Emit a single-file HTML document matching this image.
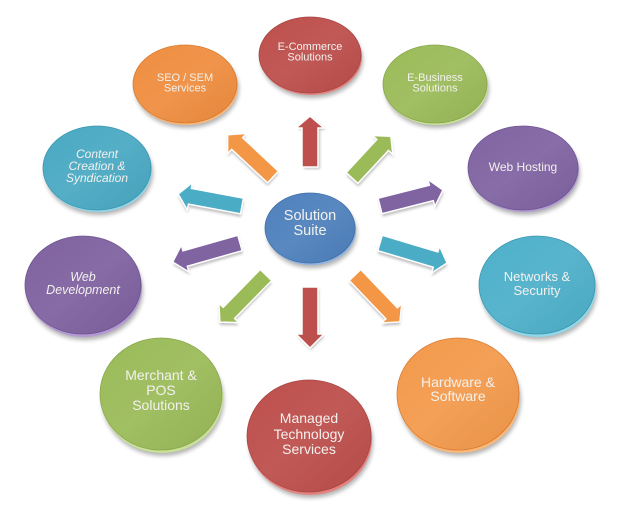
<!DOCTYPE html>
<html><head><meta charset="utf-8"><style>
html,body{margin:0;padding:0;background:#fff;}
svg{display:block;}
text{font-family:"Liberation Sans",sans-serif;fill:#f3f1ee;text-anchor:middle;}
</style></head><body>
<svg width="620" height="518" viewBox="0 0 620 518" xmlns="http://www.w3.org/2000/svg">
<defs>
<filter id="sh" x="-20%" y="-20%" width="140%" height="150%"><feGaussianBlur stdDeviation="2.2"/></filter>
<filter id="ash" x="-20%" y="-40%" width="140%" height="180%"><feGaussianBlur stdDeviation="1.2"/></filter>
<linearGradient id="gl" x1="0" y1="0" x2="1" y2="1"><stop offset="0" stop-color="#fff" stop-opacity="0"/><stop offset="0.5" stop-color="#fff" stop-opacity="0.06"/><stop offset="1" stop-color="#000" stop-opacity="0.04"/></linearGradient>
</defs>

<!-- Node helper: shadow, rim, face -->
<!-- E-Commerce -->
<g>
<ellipse cx="312" cy="60" rx="51" ry="38" fill="#000" opacity="0.3" filter="url(#sh)"/>
<ellipse cx="311" cy="57" rx="51" ry="38" fill="#e3837f"/>
<ellipse cx="310" cy="55" rx="51" ry="38" fill="#bd4f4c" stroke="#a84340" stroke-width="0.8"/>
<ellipse cx="310" cy="55" rx="51" ry="38" fill="url(#gl)"/>
<text x="310" y="50" font-size="11">E-Commerce</text>
<text x="310" y="60.5" font-size="11">Solutions</text>
</g>
<!-- SEO -->
<g>
<ellipse cx="187" cy="89" rx="52" ry="39" fill="#000" opacity="0.3" filter="url(#sh)"/>
<ellipse cx="186" cy="86" rx="52" ry="39" fill="#fbb778"/>
<ellipse cx="185" cy="84" rx="52" ry="39" fill="#ef8e40" stroke="#d97a30" stroke-width="0.8"/>
<ellipse cx="185" cy="84" rx="52" ry="39" fill="url(#gl)"/>
<text x="185" y="81" font-size="11">SEO / SEM</text>
<text x="185" y="91.5" font-size="11">Services</text>
</g>
<!-- E-Business -->
<g>
<ellipse cx="437" cy="89" rx="52" ry="39" fill="#000" opacity="0.3" filter="url(#sh)"/>
<ellipse cx="436" cy="86" rx="52" ry="39" fill="#c9e197"/>
<ellipse cx="435" cy="84" rx="52" ry="39" fill="#9bbb59" stroke="#87a64a" stroke-width="0.8"/>
<ellipse cx="435" cy="84" rx="52" ry="39" fill="url(#gl)"/>
<text x="435" y="81" font-size="11">E-Business</text>
<text x="435" y="91.5" font-size="11">Solutions</text>
</g>
<!-- Content -->
<g>
<ellipse cx="99" cy="173" rx="54" ry="42" fill="#000" opacity="0.3" filter="url(#sh)"/>
<ellipse cx="98" cy="170" rx="54" ry="42" fill="#8fd6e8"/>
<ellipse cx="97" cy="168" rx="54" ry="42" fill="#4aa9c3" stroke="#3a95ae" stroke-width="0.8"/>
<ellipse cx="97" cy="168" rx="54" ry="42" fill="url(#gl)"/>
<text x="97" y="158" font-size="12" font-style="italic">Content</text>
<text x="97" y="170" font-size="12" font-style="italic">Creation &amp;</text>
<text x="97" y="182" font-size="12" font-style="italic">Syndication</text>
</g>
<!-- Web Hosting -->
<g>
<ellipse cx="525" cy="173" rx="55" ry="42" fill="#000" opacity="0.3" filter="url(#sh)"/>
<ellipse cx="524" cy="170" rx="55" ry="42" fill="#b39ad3"/>
<ellipse cx="523" cy="168" rx="55" ry="42" fill="#8064a2" stroke="#6e5490" stroke-width="0.8"/>
<ellipse cx="523" cy="168" rx="55" ry="42" fill="url(#gl)"/>
<text x="523" y="171" font-size="12">Web Hosting</text>
</g>
<!-- Web Development -->
<g>
<ellipse cx="85" cy="291" rx="58" ry="49" fill="#000" opacity="0.3" filter="url(#sh)"/>
<ellipse cx="84" cy="288" rx="58" ry="49" fill="#b39ad3"/>
<ellipse cx="83" cy="285" rx="58" ry="49" fill="#7f62a0" stroke="#6e5490" stroke-width="0.8"/>
<ellipse cx="83" cy="285" rx="58" ry="49" fill="url(#gl)"/>
<text x="83" y="281" font-size="12.5" font-style="italic">Web</text>
<text x="83" y="294" font-size="12.5" font-style="italic">Development</text>
</g>
<!-- Networks -->
<g>
<ellipse cx="539" cy="291" rx="58" ry="49" fill="#000" opacity="0.3" filter="url(#sh)"/>
<ellipse cx="538" cy="288" rx="58" ry="49" fill="#8fd6e8"/>
<ellipse cx="537" cy="285" rx="58" ry="49" fill="#4eb0ca" stroke="#3a95ae" stroke-width="0.8"/>
<ellipse cx="537" cy="285" rx="58" ry="49" fill="url(#gl)"/>
<text x="537" y="281" font-size="13">Networks &amp;</text>
<text x="537" y="295" font-size="13">Security</text>
</g>
<!-- Merchant -->
<g>
<ellipse cx="163" cy="400" rx="61" ry="56" fill="#000" opacity="0.3" filter="url(#sh)"/>
<ellipse cx="162" cy="397" rx="61" ry="56" fill="#c9e197"/>
<ellipse cx="161" cy="394" rx="61" ry="56" fill="#9bbb59" stroke="#87a64a" stroke-width="0.8"/>
<ellipse cx="161" cy="394" rx="61" ry="56" fill="url(#gl)"/>
<text x="161" y="380" font-size="14">Merchant &amp;</text>
<text x="161" y="395" font-size="14">POS</text>
<text x="161" y="410" font-size="14">Solutions</text>
</g>
<!-- Hardware -->
<g>
<ellipse cx="460" cy="400" rx="61" ry="56" fill="#000" opacity="0.3" filter="url(#sh)"/>
<ellipse cx="459" cy="397" rx="61" ry="56" fill="#fbb778"/>
<ellipse cx="458" cy="394" rx="61" ry="56" fill="#f39a4c" stroke="#d97a30" stroke-width="0.8"/>
<ellipse cx="458" cy="394" rx="61" ry="56" fill="url(#gl)"/>
<text x="458" y="387" font-size="14">Hardware &amp;</text>
<text x="458" y="401" font-size="14">Software</text>
</g>
<!-- Managed -->
<g>
<ellipse cx="311" cy="442" rx="62" ry="56" fill="#000" opacity="0.3" filter="url(#sh)"/>
<ellipse cx="310" cy="439" rx="62" ry="56" fill="#e3837f"/>
<ellipse cx="309" cy="436" rx="62" ry="56" fill="#bd4f4c" stroke="#a84340" stroke-width="0.8"/>
<ellipse cx="309" cy="436" rx="62" ry="56" fill="url(#gl)"/>
<text x="309" y="423" font-size="14">Managed</text>
<text x="309" y="439" font-size="14">Technology</text>
<text x="309" y="454" font-size="14">Services</text>
</g>
<!-- Solution Suite -->
<g>
<ellipse cx="312" cy="233" rx="45" ry="35" fill="#000" opacity="0.3" filter="url(#sh)"/>
<ellipse cx="311" cy="230" rx="45" ry="35" fill="#8fb4e2"/>
<ellipse cx="310" cy="228" rx="45" ry="35" fill="#4f81bd" stroke="#3f6ea8" stroke-width="0.8"/>
<ellipse cx="310" cy="228" rx="45" ry="35" fill="url(#gl)"/>
<text x="310" y="220" font-size="14.5">Solution</text>
<text x="310" y="235" font-size="14.5">Suite</text>
</g>

<!-- Arrows: each group translated to tail, rotated toward tip -->
<g stroke-linejoin="miter">
<!-- 1 up red -->
<g transform="translate(310,167) rotate(-90)">
<polygon transform="translate(-2,2)" points="0,-8 39,-8 39,-14 51,0 39,14 39,8 0,8" fill="#777" opacity="0.45" filter="url(#ash)"/>
<polygon points="0,-8 39,-8 39,-14 51,0 39,14 39,8 0,8" fill="#bd4f4c" stroke="#fff" stroke-width="1.5"/>
</g>
<!-- 2 up-right green -->
<g transform="translate(352,178) rotate(-47.1)">
<polygon transform="translate(-2,2.5)" points="0,-8 45,-8 45,-14 57,0 45,14 45,8 0,8" fill="#777" opacity="0.45" filter="url(#ash)"/>
<polygon points="0,-8 45,-8 45,-14 57,0 45,14 45,8 0,8" fill="#9bbb59" stroke="#fff" stroke-width="1.5"/>
</g>
<!-- 3 right purple -->
<g transform="translate(380,206) rotate(-14.25)">
<polygon transform="translate(0,3)" points="0,-8 53,-8 53,-14 65,0 53,14 53,8 0,8" fill="#777" opacity="0.45" filter="url(#ash)"/>
<polygon points="0,-8 53,-8 53,-14 65,0 53,14 53,8 0,8" fill="#8064a2" stroke="#fff" stroke-width="1.5"/>
</g>
<!-- 4 right teal -->
<g transform="translate(380,243) rotate(16.6)">
<polygon transform="translate(1,3)" points="0,-8 58,-8 58,-14 70,0 58,14 58,8 0,8" fill="#777" opacity="0.45" filter="url(#ash)"/>
<polygon points="0,-8 58,-8 58,-14 70,0 58,14 58,8 0,8" fill="#4bacc6" stroke="#fff" stroke-width="1.5"/>
</g>
<!-- 5 down-right orange -->
<g transform="translate(355,275) rotate(46.25)">
<polygon transform="translate(2,2)" points="0,-8 53,-8 53,-14 65,0 53,14 53,8 0,8" fill="#777" opacity="0.45" filter="url(#ash)"/>
<polygon points="0,-8 53,-8 53,-14 65,0 53,14 53,8 0,8" fill="#f39645" stroke="#fff" stroke-width="1.5"/>
</g>
<!-- 6 down red -->
<g transform="translate(310,287) rotate(90)">
<polygon transform="translate(2,-1)" points="0,-8 47,-8 47,-14 61,0 47,14 47,8 0,8" fill="#777" opacity="0.45" filter="url(#ash)"/>
<polygon points="0,-8 47,-8 47,-14 61,0 47,14 47,8 0,8" fill="#bd4f4c" stroke="#fff" stroke-width="1.5"/>
</g>
<!-- 7 down-left green -->
<g transform="translate(266,275) rotate(134.4)">
<polygon transform="translate(2,-2)" points="0,-8 53,-8 53,-14 66,0 53,14 53,8 0,8" fill="#777" opacity="0.45" filter="url(#ash)"/>
<polygon points="0,-8 53,-8 53,-14 66,0 53,14 53,8 0,8" fill="#9bbb59" stroke="#fff" stroke-width="1.5"/>
</g>
<!-- 8 left purple -->
<g transform="translate(240,243) rotate(164.2)">
<polygon transform="translate(0,-3)" points="0,-8 57,-8 57,-14 70,0 57,14 57,8 0,8" fill="#777" opacity="0.45" filter="url(#ash)"/>
<polygon points="0,-8 57,-8 57,-14 70,0 57,14 57,8 0,8" fill="#8064a2" stroke="#fff" stroke-width="1.5"/>
</g>
<!-- 9 left teal -->
<g transform="translate(242,206) rotate(190.6)">
<polygon transform="translate(-1,-3)" points="0,-8 53,-8 53,-14 65,0 53,14 53,8 0,8" fill="#777" opacity="0.45" filter="url(#ash)"/>
<polygon points="0,-8 53,-8 53,-14 65,0 53,14 53,8 0,8" fill="#4bacc6" stroke="#fff" stroke-width="1.5"/>
</g>
<!-- 10 up-left orange -->
<g transform="translate(273,177) rotate(-137)">
<polygon transform="translate(-2,-2)" points="0,-8 49,-8 49,-14 62,0 49,14 49,8 0,8" fill="#777" opacity="0.45" filter="url(#ash)"/>
<polygon points="0,-8 49,-8 49,-14 62,0 49,14 49,8 0,8" fill="#f39645" stroke="#fff" stroke-width="1.5"/>
</g>
</g>
</svg>
</body></html>
